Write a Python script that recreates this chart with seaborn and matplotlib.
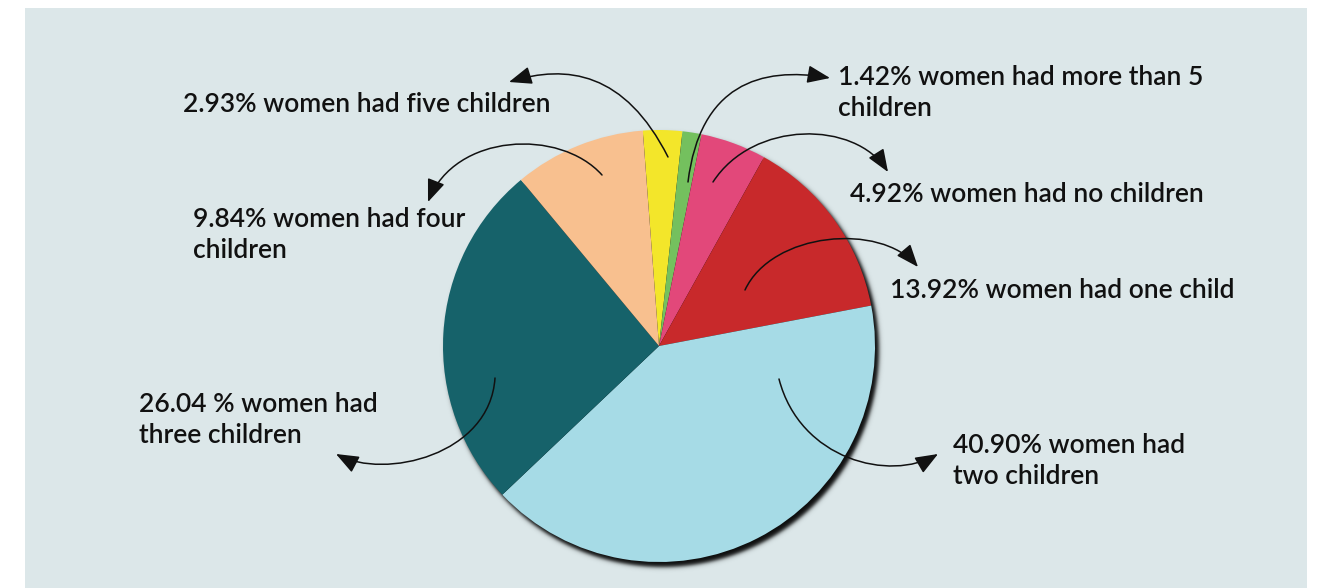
import numpy as np
import matplotlib
matplotlib.use("Agg")
import matplotlib.pyplot as plt
from matplotlib.patches import Rectangle, FancyArrowPatch, ArrowStyle
from matplotlib.path import Path
import seaborn as sns

# Share of women by number of children (%), drawn clockwise from the top
categories = ["five children", "more than 5 children", "no children", "one child",
              "two children", "three children", "four children"]
shares = [2.93, 1.42, 4.92, 13.92, 40.90, 26.04, 9.84]
labels = [
    "2.93% women had five children",
    "1.42% women had more than 5\nchildren",
    "4.92% women had no children",
    "13.92% women had one child",
    "40.90% women had\ntwo children",
    "26.04 % women had\nthree children",
    "9.84% women had four\nchildren",
]
palette = ["#f3e62a", "#74c05e", "#e2487a", "#c8292b", "#a6dbe6", "#16626a", "#f8c08f"]

sns.set_theme(style="white")
plt.rcParams["font.family"] = ["Lato", "DejaVu Sans"]

W, H = 1322, 588
fig = plt.figure(figsize=(W / 100, H / 100), dpi=100)
fig.patch.set_facecolor("white")
ax = fig.add_axes([0, 0, 1, 1])
ax.set_axis_off()


def Y(py):
    """Convert a top-down pixel row into the y-up axis coordinate."""
    return H - py


# panel background
ax.add_patch(Rectangle((25, 0), 1282, Y(8), facecolor="#dce7e9", edgecolor="none", zorder=0))

cx, cy, R = 659, 346, 216

# soft drop shadow under the pie
xs = np.arange(cx - R - 30, cx + R + 30)
ys = np.arange(Y(cy + R + 30), Y(cy - R - 30))
gx, gy = np.meshgrid(xs + 0.5, ys + 0.5)
d = np.hypot(gx - (cx + 3.5), gy - Y(cy + 4.5))
alpha = 0.95 * 0.5 * (1 - np.tanh((d - R - 0.5) / 2.4))
img = np.zeros(gx.shape + (4,))
img[..., 3] = alpha
ax.imshow(img, extent=(xs[0], xs[-1] + 1, ys[0], ys[-1] + 1), origin="lower",
          zorder=1, interpolation="bilinear")

colors = sns.color_palette(palette)
ax.pie(shares, colors=colors, startangle=94.3, counterclock=False,
       center=(cx, Y(cy)), radius=R, wedgeprops=dict(linewidth=0, zorder=2),
       frame=False)

# curved callout arrows: tail inside the slice, head next to the label
arrow_paths = [
    [(668, 157), (625, 72), (567, 64), (509, 82)],
    [(688, 182), (700, 85), (760, 66), (830, 78)],
    [(713, 182), (753, 120), (855, 120), (888, 172)],
    [(745, 290), (772, 232), (880, 222), (918, 267)],
    [(779, 379), (800, 460), (890, 482), (938, 454)],
    [(495, 378), (490, 455), (385, 480), (336, 454)],
    [(602, 175), (560, 128), (455, 133), (428, 202)],
]
style = ArrowStyle("-|>", head_length=14, head_width=5.5)
for pts in arrow_paths:
    verts = [(x, Y(y)) for x, y in pts]
    path = Path(verts, [Path.MOVETO, Path.CURVE4, Path.CURVE4, Path.CURVE4])
    ax.add_patch(FancyArrowPatch(path=path, arrowstyle=style, mutation_scale=1,
                                 color="#111111", linewidth=1.1,
                                 transform=ax.transData, zorder=4))

label_pos = [(183, 105), (838, 93), (850, 194), (890, 290),
             (953, 461), (139, 420), (193, 235)]
for text, (tx, ty) in zip(labels, label_pos):
    ax.text(tx, Y(ty), text, ha="left", va="center", fontsize=19,
            fontweight="semibold", color="#111111", linespacing=1.32, zorder=5)

ax.set_xlim(0, W)
ax.set_ylim(0, H)
ax.set_aspect("auto")
fig.savefig("out.png", dpi=100, facecolor="white")
